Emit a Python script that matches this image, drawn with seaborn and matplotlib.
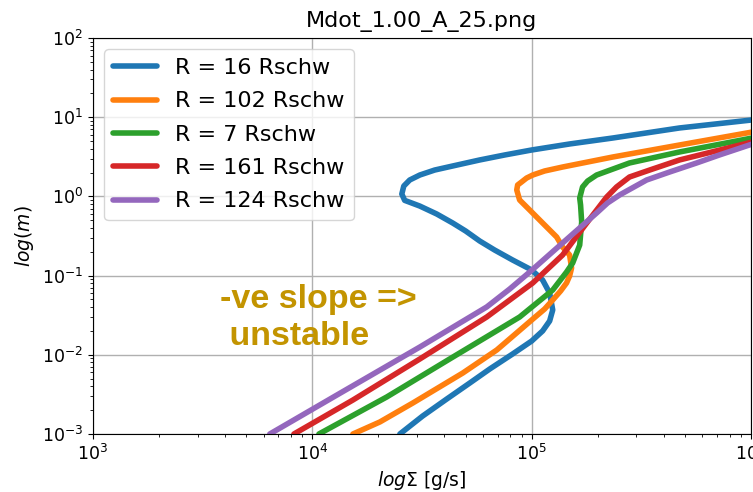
import numpy as np
import pandas as pd
import matplotlib
matplotlib.use("Agg")
import matplotlib.pyplot as plt
import seaborn as sns

# Series labels (legend order)
labels = ["R = 16 Rschw", "R = 102 Rschw", "R = 7 Rschw", "R = 161 Rschw", "R = 124 Rschw"]

# log10(Sigma) and log10(m), along each S-curve
logsig_16 = [4.399, 4.503, 4.613, 4.718, 4.809, 4.913, 5.000, 5.050, 5.082, 5.096, 5.082,
             5.050, 5.000, 4.913, 4.831, 4.763, 4.699, 4.640, 4.567, 4.490, 4.421, 4.408, 4.417,
             4.444, 4.490, 4.558, 4.640, 4.763, 4.877, 5.000, 5.173, 5.369, 5.674, 6.010]
logm_16 = [-3.0, -2.773, -2.558, -2.356, -2.179, -1.990, -1.826, -1.699, -1.573, -1.434, -1.220,
           -1.056, -0.929, -0.803, -0.677, -0.563, -0.437, -0.336, -0.222, -0.122, -0.050, 0.030, 0.131,
           0.207, 0.270, 0.333, 0.384, 0.460, 0.523, 0.586, 0.662, 0.737, 0.864, 0.967]

logsig_102 = [4.185, 4.308, 4.458, 4.686, 4.841, 5.000, 5.059, 5.096, 5.132, 5.159, 5.173,
              5.182, 5.173, 5.141, 5.114, 5.050, 4.991, 4.945, 4.932, 4.936, 4.954, 4.977,
              5.005, 5.059, 5.141, 5.369, 5.674, 6.010]
logm_102 = [-3.0, -2.848, -2.609, -2.230, -1.939, -1.561, -1.422, -1.308, -1.194, -1.093, -1.005,
            -0.904, -0.740, -0.639, -0.513, -0.336, -0.172, -0.045, 0.081, 0.144, 0.182, 0.232,
            0.270, 0.321, 0.371, 0.497, 0.649, 0.815]

logsig_7 = [4.030, 4.339, 4.626, 4.945, 5.096, 5.159, 5.187, 5.219, 5.228, 5.223,
            5.219, 5.232, 5.255, 5.296, 5.446, 5.674, 6.010]
logm_7 = [-3.0, -2.533, -2.053, -1.523, -1.182, -0.955, -0.841, -0.614, -0.323, -0.109,
          -0.020, 0.119, 0.194, 0.270, 0.422, 0.561, 0.740]

logsig_161 = [3.916, 4.185, 4.490, 4.795, 5.005, 5.141, 5.251, 5.342, 5.387, 5.446, 5.538,
              5.674, 6.010]
logm_161 = [-3.0, -2.571, -2.053, -1.523, -1.093, -0.740, -0.336, -0.008, 0.119, 0.245, 0.333,
            0.460, 0.690]

logsig_124 = [3.806, 4.112, 4.490, 4.795, 4.900, 4.991, 5.141, 5.296, 5.346, 5.401, 5.524,
              5.629, 5.752, 5.856, 6.010]
logm_124 = [-3.0, -2.508, -1.902, -1.396, -1.169, -0.955, -0.588, -0.210, -0.083, 0.018, 0.207,
            0.308, 0.422, 0.523, 0.665]

series = [(logsig_16, logm_16), (logsig_102, logm_102), (logsig_7, logm_7),
          (logsig_161, logm_161), (logsig_124, logm_124)]

rows = []
for lab, (xs, ys) in zip(labels, series):
    for i, (a, b) in enumerate(zip(xs, ys)):
        rows.append({"R": lab, "order": i, "Sigma": 10 ** a, "m": 10 ** b})
df = pd.DataFrame(rows)

W, H = 753, 492
fig = plt.figure(figsize=(W / 100, H / 100), dpi=100)
ax = fig.add_axes([93 / W, 1 - 434 / H, (751 - 93) / W, (434 - 38) / H])

palette = ["#1f77b4", "#ff7f0e", "#2ca02c", "#d62728", "#9467bd"]
sns.lineplot(data=df, x="Sigma", y="m", hue="R", hue_order=labels, palette=palette,
             sort=False, estimator=None, linewidth=4, ax=ax)
for ln in ax.get_lines():
    ln.set_solid_joinstyle("round")
    ln.set_solid_capstyle("round")

ax.set_xscale("log")
ax.set_yscale("log")
ax.set_xlim(1e3, 1e6)
ax.set_ylim(1e-3, 1e2)
ax.grid(True, which="major", color="#b0b0b0", linewidth=1.0)
ax.tick_params(labelsize=12.5)

ax.set_xlabel(r"$log\Sigma$ [g/s]", fontsize=13.5)
ax.set_ylabel(r"$log(m)$", fontsize=13.5)
ax.set_title("Mdot_1.00_A_25.png", fontsize=16, pad=8)

leg = ax.legend(loc="upper left", fontsize=16, title=None, labelspacing=0.6)
for line in leg.get_lines():
    line.set_linewidth(4)

ax.text(10 ** 3.579, 10 ** -1.876, "-ve slope =>\n unstable", color="#c39400",
        fontsize=24.5, fontweight="bold", family=["Liberation Sans", "DejaVu Sans"],
        ha="left", va="baseline", linespacing=1.25)

fig.savefig("out.png", dpi=100)
